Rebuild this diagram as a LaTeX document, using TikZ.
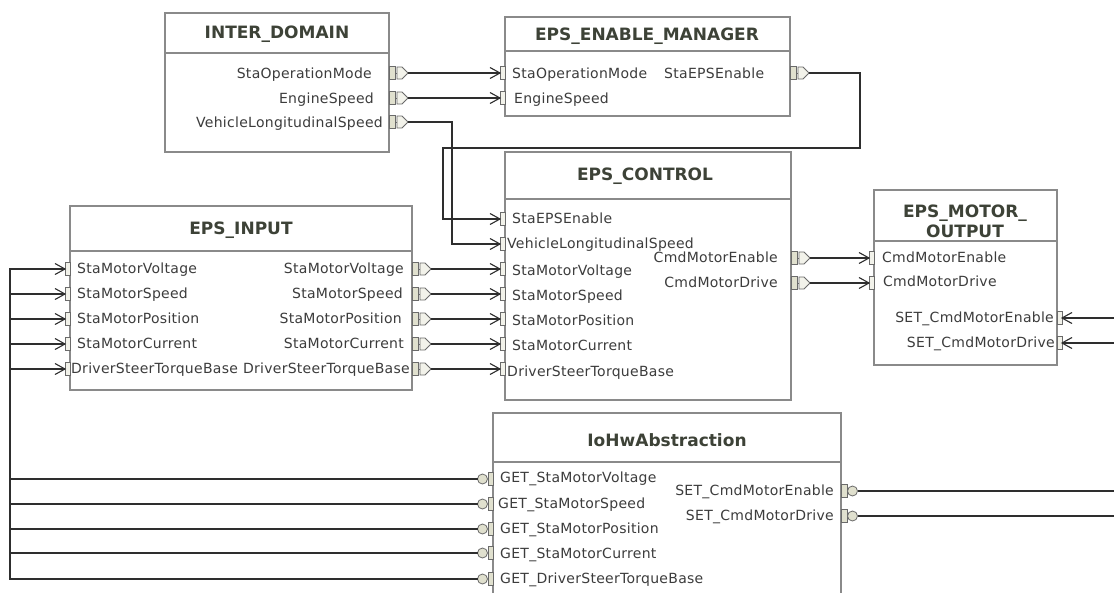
\documentclass[tikz,border=0pt]{standalone}
\usepackage{fontspec}
\setmainfont{DejaVu Sans}
\newfontfamily\portfam{DejaVu Sans}[LetterSpace=2]
\definecolor{boxgray}{HTML}{8A8A8A}
\definecolor{titlecol}{HTML}{3D4237}
\definecolor{textcol}{HTML}{3C3C3C}
\definecolor{wirecol}{HTML}{2E2E2E}
\definecolor{portbeige}{HTML}{E0E0CE}
\definecolor{portlight}{HTML}{F2F2EA}
\definecolor{portedge}{HTML}{6A6A6A}
\newcommand\prtfont{\portfam\fontsize{14}{16}\selectfont}
\newcommand\ttlfont{\fontsize{17}{20}\selectfont\bfseries}
\tikzset{
  box/.style={draw=boxgray, line width=1.4pt, fill=white, inner sep=0pt, outer sep=0pt},
  boxline/.style={draw=boxgray, line width=1.4pt},
  ttl/.style={font=\ttlfont, text=titlecol, inner sep=0pt, align=center},
  lbl/.style={font=\prtfont, text=textcol, inner sep=0pt},
  wire/.style={draw=wirecol, line width=1.1pt},
  portfill/.style={fill=portbeige, draw=portedge, line width=0.8pt},
  portlite/.style={fill=portlight, draw=portedge, line width=0.8pt},
}
% component box: name, left, top, right, bottom, title separator
\newcommand\compbox[6]{%
  \node[box, anchor=north west, minimum width={#4pt-#2pt}, minimum height={#5pt-#3pt}] (#1) at (#2,#3) {};
  \draw[boxline] (#2,#6) -- (#4,#6);
}
% sender port on a right edge: edge x, y, name
\newcommand\txR[3]{%
  \draw[portfill] (#1,#2-6.5) rectangle (#1+6,#2+6.5);
  \draw[portedge, line width=0.8pt] (#1+6,#2) -- (#1+8,#2);
  \draw[portlite] (#1+8,#2-6) -- (#1+13,#2-6) -- (#1+19,#2) -- (#1+13,#2+6) -- (#1+8,#2+6) -- cycle;
  \coordinate (#3) at (#1+19,#2);
}
% receiver port on a left edge: edge x, y, name
\newcommand\rxL[3]{%
  \draw[portlite] (#1-5,#2-6.5) rectangle (#1,#2+6.5);
  \draw[wire] (#1-15,#2-5.5) -- (#1-5,#2) -- (#1-15,#2+5.5);
  \coordinate (#3) at (#1-5,#2);
}
% receiver port on a right edge: edge x, y, name
\newcommand\rxR[3]{%
  \draw[portlite] (#1,#2-6.5) rectangle (#1+5,#2+6.5);
  \draw[wire] (#1+15,#2-5.5) -- (#1+5,#2) -- (#1+15,#2+5.5);
  \coordinate (#3) at (#1+5,#2);
}
% client port on a left edge: edge x, y, name
\newcommand\clL[3]{%
  \draw[portfill] (#1-5,#2-6.5) rectangle (#1,#2+6.5);
  \draw[portfill] (#1-10.5,#2) circle (5);
  \coordinate (#3) at (#1-15.5,#2);
}
% server port on a right edge: edge x, y, name
\newcommand\svR[3]{%
  \draw[portfill] (#1,#2-6.5) rectangle (#1+6,#2+6.5);
  \draw[portfill] (#1+11.5,#2) circle (5);
  \coordinate (#3) at (#1+16.5,#2);
}
% port labels
\newcommand\lblW[4]{\node[lbl, anchor=base west] (#1) at (#2,#3+5) {#4};}
\newcommand\lblE[4]{\node[lbl, anchor=base east] (#1) at (#2,#3+5) {#4};}

\begin{document}
\begin{tikzpicture}[x=1pt, y=-1pt, line join=miter]
\useasboundingbox (0,0) rectangle (1114,592);
\clip (0,0) rectangle (1114,592);
\fill[white] (0,0) rectangle (1114,592);

% ---------------- INTER_DOMAIN
\compbox{ID}{165}{13}{389}{152}{53}
\node[ttl] (IDt) at (277,34) {INTER\_DOMAIN};
\lblE{IDl1}{372}{73}{StaOperationMode}
\lblE{IDl2}{374}{98}{EngineSpeed}
\lblE{IDl3}{383}{122}{VehicleLongitudinalSpeed}
\txR{389}{73}{ID-p1}
\txR{389}{98}{ID-p2}
\txR{389}{122}{ID-p3}

% ---------------- EPS_ENABLE_MANAGER
\compbox{EM}{505}{17}{790}{116}{51}
\node[ttl] (EMt) at (647,36) {EPS\_ENABLE\_MANAGER};
\lblW{EMl1}{512}{73}{StaOperationMode}
\lblW{EMl2}{514}{98}{EngineSpeed}
\lblW{EMl3}{664}{73}{StaEPSEnable}
\rxL{505}{73}{EM-r1}
\rxL{505}{98}{EM-r2}
\txR{790}{73}{EM-p1}

% ---------------- EPS_CONTROL
\compbox{CT}{505}{152}{791}{400}{199}
\node[ttl] (CTt) at (645,176) {EPS\_CONTROL};
\lblW{CTl1}{512}{218}{StaEPSEnable}
\lblW{CTl2}{507}{243}{VehicleLongitudinalSpeed}
\lblW{CTl3}{512}{270}{StaMotorVoltage}
\lblW{CTl4}{512}{295}{StaMotorSpeed}
\lblW{CTl5}{512}{320}{StaMotorPosition}
\lblW{CTl6}{512}{345}{StaMotorCurrent}
\lblW{CTl7}{507}{371}{DriverSteerTorqueBase}
\lblE{CTl8}{778}{257}{CmdMotorEnable}
\lblE{CTl9}{778}{282}{CmdMotorDrive}
\rxL{505}{219}{CT-r1}
\rxL{505}{244}{CT-r2}
\rxL{505}{269}{CT-r3}
\rxL{505}{294}{CT-r4}
\rxL{505}{319}{CT-r5}
\rxL{505}{344}{CT-r6}
\rxL{505}{369}{CT-r7}
\txR{791}{258}{CT-p1}
\txR{791}{283}{CT-p2}

% ---------------- EPS_INPUT
\compbox{IN}{70}{206}{412}{390}{251}
\node[ttl] (INt) at (241,230) {EPS\_INPUT};
\lblW{INl1}{77}{268}{StaMotorVoltage}
\lblW{INl2}{77}{293}{StaMotorSpeed}
\lblW{INl3}{77}{318}{StaMotorPosition}
\lblW{INl4}{77}{343}{StaMotorCurrent}
\lblW{INl5}{71}{368}{DriverSteerTorqueBase}
\lblE{INr1}{404}{268}{StaMotorVoltage}
\lblE{INr2}{403}{293}{StaMotorSpeed}
\lblE{INr3}{402}{318}{StaMotorPosition}
\lblE{INr4}{404}{343}{StaMotorCurrent}
\lblE{INr5}{410}{368}{DriverSteerTorqueBase}
\rxL{70}{269}{IN-r1}
\rxL{70}{294}{IN-r2}
\rxL{70}{319}{IN-r3}
\rxL{70}{344}{IN-r4}
\rxL{70}{369}{IN-r5}
\txR{412}{269}{IN-p1}
\txR{412}{294}{IN-p2}
\txR{412}{319}{IN-p3}
\txR{412}{344}{IN-p4}
\txR{412}{369}{IN-p5}

% ---------------- EPS_MOTOR_OUTPUT
\compbox{MO}{874}{190}{1057}{365}{241}
\node[ttl] (MOt) at (965,221) {EPS\_MOTOR\_\\OUTPUT};
\lblW{MOl1}{882}{257}{CmdMotorEnable}
\lblW{MOl2}{883}{281}{CmdMotorDrive}
\lblE{MOl3}{1054}{317}{SET\_CmdMotorEnable}
\lblE{MOl4}{1055}{342}{SET\_CmdMotorDrive}
\rxL{874}{258}{MO-r1}
\rxL{874}{283}{MO-r2}
\rxR{1057}{318}{MO-r3}
\rxR{1057}{343}{MO-r4}

% ---------------- IoHwAbstraction
\compbox{IO}{493}{413}{841}{600}{462}
\node[ttl] (IOt) at (667,440) {IoHwAbstraction};
\lblW{IOl1}{500}{477}{GET\_StaMotorVoltage}
\lblW{IOl2}{498}{503}{GET\_StaMotorSpeed}
\lblW{IOl3}{500}{528}{GET\_StaMotorPosition}
\lblW{IOl4}{500}{553}{GET\_StaMotorCurrent}
\lblW{IOl5}{500}{578}{GET\_DriverSteerTorqueBase}
\lblE{IOl6}{834}{490}{SET\_CmdMotorEnable}
\lblE{IOl7}{834}{515}{SET\_CmdMotorDrive}
\clL{493}{479}{IO-c1}
\clL{493}{504}{IO-c2}
\clL{493}{529}{IO-c3}
\clL{493}{553}{IO-c4}
\clL{493}{579}{IO-c5}
\svR{841}{491}{IO-s1}
\svR{841}{516}{IO-s2}

% ---------------- routing points
\coordinate (railW) at (10,420);
\coordinate (railE1) at (1122,420);
\coordinate (railE2) at (1128,420);
\coordinate (vlsBend) at (452,180);
\coordinate (enaTop) at (860,148);
\coordinate (enaBend) at (443,180);

% ---------------- connectors
\draw[wire] (ID-p1) -- (EM-r1);
\draw[wire] (ID-p2) -- (EM-r2);
\draw[wire] (ID-p3) -| (vlsBend) |- (CT-r2);
\draw[wire] (EM-p1) -| (enaTop) -| (enaBend) |- (CT-r1);
\draw[wire] (IN-p1) -- (CT-r3);
\draw[wire] (IN-p2) -- (CT-r4);
\draw[wire] (IN-p3) -- (CT-r5);
\draw[wire] (IN-p4) -- (CT-r6);
\draw[wire] (IN-p5) -- (CT-r7);
\draw[wire] (CT-p1) -- (MO-r1);
\draw[wire] (CT-p2) -- (MO-r2);
\draw[wire] (IO-c1) -| (railW) |- (IN-r1);
\draw[wire] (IO-c2) -| (railW) |- (IN-r2);
\draw[wire] (IO-c3) -| (railW) |- (IN-r3);
\draw[wire] (IO-c4) -| (railW) |- (IN-r4);
\draw[wire] (IO-c5) -| (railW) |- (IN-r5);
\draw[wire] (IO-s1) -| (railE1) |- (MO-r3);
\draw[wire] (IO-s2) -| (railE2) |- (MO-r4);
\end{tikzpicture}
\end{document}
